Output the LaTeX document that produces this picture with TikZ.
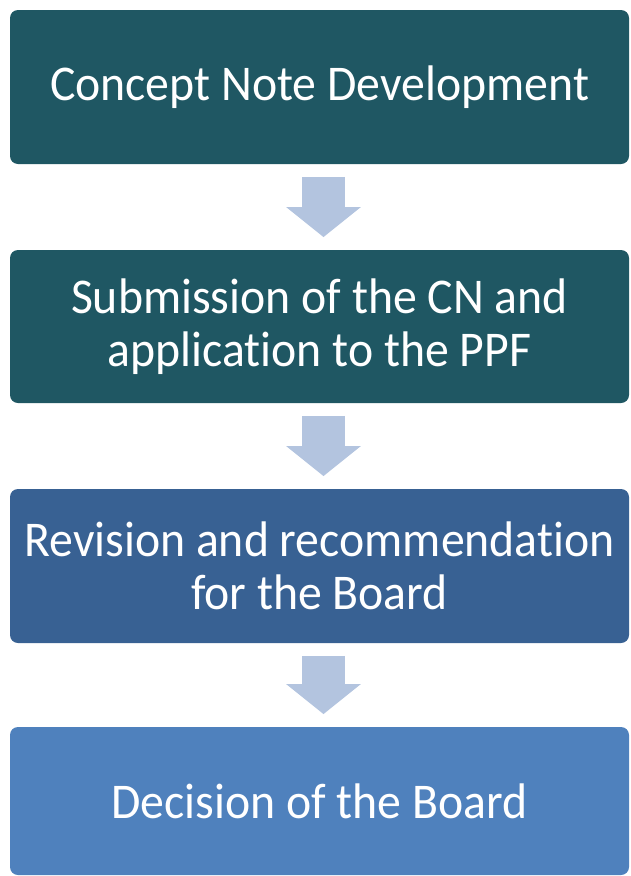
\documentclass[tikz,border=0pt]{standalone}
\usepackage{fontspec}
\setmainfont{Carlito}[FakeStretch=0.955, Ligatures=NoCommon]
\usepackage{tikz}
\usetikzlibrary{arrows.meta}

\definecolor{tealbox}{HTML}{1F5763}
\definecolor{bluebox}{HTML}{386193}
\definecolor{lightbox}{HTML}{4F81BD}
\definecolor{arrowfill}{HTML}{B3C4DF}

\begin{document}
\begin{tikzpicture}[
      x=1pt, y=-1pt,
      stage/.style={
        rectangle, rounded corners=8pt, draw=none,
        text=white, align=center,
        font=\fontsize{50}{53}\selectfont,
        minimum width=619pt, inner sep=0pt
      },
      flow/.style={
        draw=arrowfill, line width=43pt,
        -{Triangle[length=30pt, width=73pt, fill=arrowfill]},
        shorten <=12.7pt, shorten >=12.7pt
      }
    ]
      \useasboundingbox (0,0) rectangle (630,876);
      \node[stage, fill=tealbox, minimum height=154pt] (cn) at (319.5,87){Concept Note Development};
      \node[stage, fill=tealbox, minimum height=153pt] (sub) at (319.5,326.5){Submission of the CN and\\application to the PPF};
      \node[stage, fill=bluebox, minimum height=154pt] (rev) at (319.5,566){Revision and recommendation\\for the Board};
      \node[stage, fill=lightbox, minimum height=148pt] (dec) at (319.5,801){Decision of the Board};

      \foreach \a/\b in {cn/sub,sub/rev,rev/dec} {
        \draw[flow] ([xshift=4pt]\a.south) -- ([xshift=4pt]\b.north);
      }
    \end{tikzpicture}
\end{document}
